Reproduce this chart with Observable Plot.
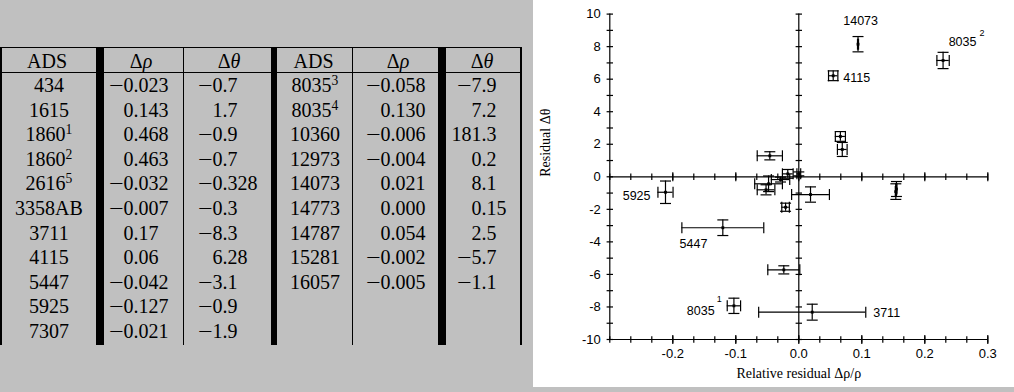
<!DOCTYPE html>
<html><head><meta charset="utf-8">
<script src="https://cdn.jsdelivr.net/npm/d3@7"></script>
<script src="https://cdn.jsdelivr.net/npm/@observablehq/plot@0.6"></script>
<style>
html,body{margin:0;padding:0;background:#c0c0c0;}
#page{position:relative;width:1014px;height:392px;overflow:hidden;background:#c0c0c0;}
#tbl{position:absolute;left:0;top:0;width:533px;height:392px;font-family:"Liberation Serif",serif;font-size:20px;color:#000;}
#chart{position:absolute;left:533px;top:0;width:481px;height:387px;background:#fff;}
.ln{position:absolute;background:#000;}
.cell{position:absolute;white-space:nowrap;line-height:1;}
.cell sup{font-size:0.68em;vertical-align:0.55em;line-height:0;}
.mn{display:inline-block;transform:scaleX(1.3);margin-right:2px;}
</style></head><body>
<div id="page"><div id="tbl"></div><div id="chart"></div></div>
<script>
// ---------- table data ----------
const adsLeft = ["434","1615","1860","1860","2616","3358AB","3711","4115","5447","5925","7307"];
const supLeft = ["","","1","2","5","","","","","",""];
const drhoLeft = ["-0.023","0.143","0.468","0.463","-0.032","-0.007","0.17","0.06","-0.042","-0.127","-0.021"];
const dthetaLeft = ["-0.7","1.7","-0.9","-0.7","-0.328","-0.3","-8.3","6.28","-3.1","-0.9","-1.9"];
const adsRight = ["8035","8035","10360","12973","14073","14773","14787","15281","16057"];
const supRight = ["3","4","","","","","","",""];
const drhoRight = ["-0.058","0.130","-0.006","-0.004","0.021","0.000","0.054","-0.002","-0.005"];
const dthetaRight = ["-7.9","7.2","181.3","0.2","8.1","0.15","2.5","-5.7","-1.1"];

// ---------- plot data (Relative residual Δρ/ρ, Residual Δθ, errors) ----------
const px = [0.094, 0.229, 0.0546, 0.066, 0.069, -0.046, -0.0175, 0.0, -0.029, -0.048, -0.052, -0.021, 0.0186, -0.2116, -0.1206, -0.0238, -0.103, 0.0213, 0.155, 0.154];
const py = [8.15, 7.15, 6.21, 2.48, 1.68, 1.29, 0.18, 0.18, -0.17, -0.43, -0.8, -1.87, -1.09, -0.95, -3.13, -5.72, -7.93, -8.32, -0.75, -0.91];
const ex = [0.0008, 0.0098, 0.0074, 0.008, 0.0077, 0.02, 0.0085, 0.003, 0.0146, 0.022, 0.014, 0.006, 0.03, 0.012, 0.065, 0.0254, 0.0106, 0.085, 0.0008, 0.0008];
const ey = [0.47, 0.5, 0.3, 0.3, 0.43, 0.25, 0.27, 0.12, 0.15, 0.48, 0.31, 0.25, 0.47, 0.69, 0.48, 0.25, 0.47, 0.49, 0.46, 0.48];
const ptName = ["14073","8035","4115","","","","","","","","","","","5925","5447","","8035","3711","",""];
const ptSup  = ["","2","","","","","","","","","","","","","","","1","","",""];

const xTickLabels = [-0.2, -0.1, 0, 0.1, 0.2, 0.3];
const yTickLabels = [-10, -8, -6, -4, -2, 0, 2, 4, 6, 8, 10];
const xTicks = d3.range(-9, 10).map(i => i / 30);
const yTicks = d3.range(-10, 11);

// label placement (pixel offsets from the point)
const labelStyle = {
  "14073": {dx: 2.6, dy: -23.5, anchor: "middle"},
  "8035_2": {dx: 5.6, dy: -18.7, anchor: "start", sdx: 39, sdy: -27},
  "4115": {dx: 10, dy: 2, anchor: "start"},
  "5925": {dx: -15, dy: 4, anchor: "end"},
  "5447": {dx: -43.3, dy: 16.5, anchor: "start"},
  "8035_1": {dx: -19.3, dy: 4.7, anchor: "end", sdx: -14.6, sdy: -7},
  "3711": {dx: 61, dy: 1.3, anchor: "start"}
};

// ---------- table drawing ----------
const tbl = document.getElementById("tbl");
function line(x, y, w, h) {
  const d = document.createElement("div"); d.className = "ln";
  Object.assign(d.style, {left: x + "px", top: y + "px", width: w + "px", height: h + "px"});
  tbl.appendChild(d);
}
function text(html, x, yc, anchor) {
  const d = document.createElement("div"); d.className = "cell"; d.innerHTML = html;
  d.style.left = x + "px"; d.style.top = yc + "px";
  const tx = anchor === "middle" ? "-50%" : anchor === "end" ? "-100%" : "0";
  d.style.transform = `translate(${tx},-50%)`;
  tbl.appendChild(d);
}
function num(v, decX, yc) {
  const s = v.replace("-", "<span class='mn'>\u2212</span>");
  const i = s.lastIndexOf(".");
  text(s.slice(0, i), decX, yc, "end");
  text(s.slice(i), decX, yc, "start");
}
const top0 = 47, bottom0 = 345;
line(0, top0, 521.7, 1.4);
line(0, 72.2, 521.7, 1);
line(0, top0, 1.5, bottom0 - top0);
line(96, top0, 8, bottom0 - top0);
line(182.7, top0, 1, bottom0 - top0);
line(270.7, top0, 6.6, bottom0 - top0);
line(351.5, top0, 1, bottom0 - top0);
line(438.3, top0, 7.4, bottom0 - top0);
line(520.2, top0, 1.5, bottom0 - top0);

const hy = 60.5;
text("ADS", 47, hy, "middle");
text("Δ<i>ρ</i>", 141, hy, "middle");
text("Δ<i>θ</i>", 229, hy, "middle");
text("ADS", 313.5, hy, "middle");
text("Δ<i>ρ</i>", 398, hy, "middle");
text("Δ<i>θ</i>", 482, hy, "middle");

const rowY = i => 85 + 24.6 * i;
adsLeft.forEach((a, i) => {
  text(a + (supLeft[i] ? `<sup>${supLeft[i]}</sup>` : ""), 49, rowY(i), "middle");
  num(drhoLeft[i], 133.5, rowY(i));
  num(dthetaLeft[i], 222.5, rowY(i));
});
adsRight.forEach((a, i) => {
  text(a + (supRight[i] ? `<sup>${supRight[i]}</sup>` : ""), 315, rowY(i), "middle");
  num(drhoRight[i], 390.5, rowY(i));
  num(dthetaRight[i], 481.5, rowY(i));
});

// ---------- chart ----------
const pts = px.map((x, i) => ({x, y: py[i], ex: ex[i], ey: ey[i], name: ptName[i], sup: ptSup[i],
  key: ptSup[i] ? ptName[i] + "_" + ptSup[i] : ptName[i]}));
const labelled = pts.filter(d => d.name);
const withSup = labelled.filter(d => d.sup);

const vbar = {draw(ctx, size) { const r = Math.sqrt(size / Math.PI); ctx.moveTo(0, -r); ctx.lineTo(0, r); }};
const hbar = {draw(ctx, size) { const r = Math.sqrt(size / Math.PI); ctx.moveTo(-r, 0); ctx.lineTo(r, 0); }};

const sans = "Liberation Sans, Arial, sans-serif";
const serif = "Liberation Serif, Times New Roman, serif";
const sw = 1.2;

const marks = [];
marks.push(Plot.ruleX([-0.3, 0], {stroke: "black", strokeWidth: sw}));
marks.push(Plot.ruleY([-10, 0], {stroke: "black", strokeWidth: sw}));
for (const xa of [-0.3, 0]) marks.push(Plot.dot(yTicks, {x: xa, y: d => d, symbol: hbar, r: 3.2, stroke: "black", strokeWidth: sw, fill: "none"}));
for (const ya of [-10, 0]) {
  marks.push(Plot.dot(xTicks, {x: d => d, y: ya, symbol: vbar, r: 3.2, stroke: "black", strokeWidth: sw, fill: "none"}));
  marks.push(Plot.dot(xTickLabels, {x: d => d, y: ya, symbol: vbar, r: 4.5, stroke: "black", strokeWidth: sw, fill: "none"}));
}
marks.push(Plot.axisY({ticks: yTickLabels, anchor: "left", tickSize: 0, tickPadding: 9, tickFormat: d => String(d), label: null, fontSize: 13, fontFamily: sans}));
marks.push(Plot.axisX({ticks: xTickLabels, anchor: "bottom", tickSize: 0, tickPadding: 9, tickFormat: d => d.toFixed(1), label: null, fontSize: 13, fontFamily: sans}));
marks.push(Plot.text(["Relative residual Δρ/ρ"], {frameAnchor: "bottom", dy: 38, fontFamily: serif, fontSize: 14}));
marks.push(Plot.text(["Residual Δθ"], {frameAnchor: "left", dx: -64, rotate: -90, fontFamily: serif, fontSize: 14}));
marks.push(Plot.ruleY(pts, {y: "y", x1: d => d.x - d.ex, x2: d => d.x + d.ex, stroke: "black", strokeWidth: sw}));
marks.push(Plot.ruleX(pts, {x: "x", y1: d => d.y - d.ey, y2: d => d.y + d.ey, stroke: "black", strokeWidth: sw}));
marks.push(Plot.dot(pts, {x: d => d.x - d.ex, y: "y", symbol: vbar, r: 5.5, stroke: "black", strokeWidth: sw, fill: "none"}));
marks.push(Plot.dot(pts, {x: d => d.x + d.ex, y: "y", symbol: vbar, r: 5.5, stroke: "black", strokeWidth: sw, fill: "none"}));
marks.push(Plot.dot(pts, {x: "x", y: d => d.y - d.ey, symbol: hbar, r: 5.5, stroke: "black", strokeWidth: sw, fill: "none"}));
marks.push(Plot.dot(pts, {x: "x", y: d => d.y + d.ey, symbol: hbar, r: 5.5, stroke: "black", strokeWidth: sw, fill: "none"}));
marks.push(Plot.dot(pts, {x: "x", y: "y", symbol: "square", r: 1.6, fill: "black", stroke: "none"}));
for (const d of labelled) {
  const s = labelStyle[d.key];
  marks.push(Plot.text([d], {x: "x", y: "y", text: "name", dx: s.dx, dy: s.dy, textAnchor: s.anchor, fontFamily: sans, fontSize: 12.5, fill: "black"}));
}
for (const d of withSup) {
  const s = labelStyle[d.key];
  marks.push(Plot.text([d], {x: "x", y: "y", text: "sup", dx: s.sdx, dy: s.sdy, textAnchor: "middle", fontFamily: sans, fontSize: 9, fill: "black"}));
}

const chart = Plot.plot({
  width: 481, height: 387,
  marginLeft: 76.3, marginRight: 26.7, marginTop: 13.6, marginBottom: 48,
  x: {domain: [-0.3, 0.3], label: null},
  y: {domain: [-10, 10], label: null},
  style: {background: "white", color: "black", overflow: "visible"},
  marks
});
document.getElementById("chart").appendChild(chart);
</script></body></html>
